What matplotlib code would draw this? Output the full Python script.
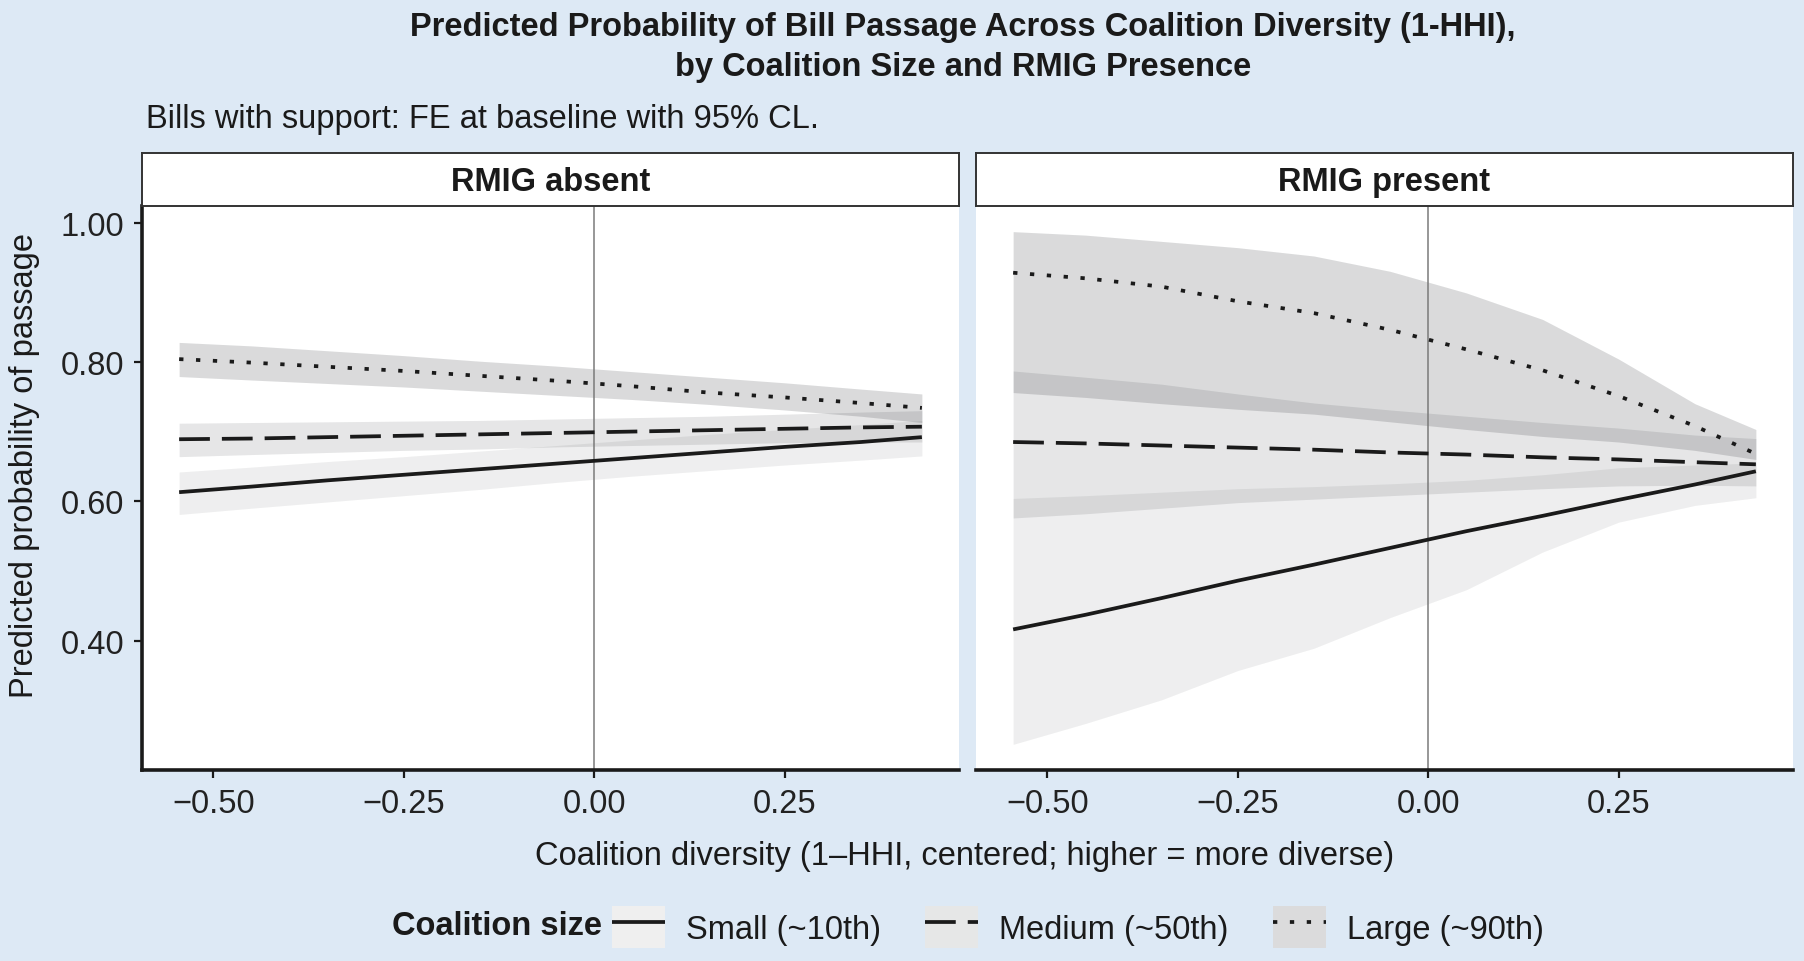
import matplotlib
matplotlib.use("Agg")
import matplotlib.pyplot as plt
from matplotlib.patches import Patch
from matplotlib.lines import Line2D
from matplotlib.ticker import FixedLocator, FuncFormatter
from matplotlib.colors import to_rgb

plt.rcParams['font.family'] = ['Liberation Sans', 'DejaVu Sans']

# ---------------- data ----------------
diversity = [-0.545, -0.45, -0.35, -0.25, -0.15, -0.05, 0.05, 0.15, 0.25, 0.35, 0.43]
panels = ["RMIG absent", "RMIG present"]
size_labels = ["Small (~10th)", "Medium (~50th)", "Large (~90th)"]

# RMIG absent
absent_small = [0.613, 0.621, 0.630, 0.638, 0.646, 0.654, 0.662, 0.670, 0.678, 0.685, 0.692]
absent_small_lo = [0.581, 0.590, 0.599, 0.608, 0.617, 0.627, 0.636, 0.644, 0.652, 0.659, 0.665]
absent_small_hi = [0.642, 0.649, 0.657, 0.664, 0.672, 0.680, 0.688, 0.696, 0.703, 0.710, 0.716]
absent_medium = [0.689, 0.690, 0.692, 0.694, 0.696, 0.698, 0.700, 0.702, 0.704, 0.706, 0.707]
absent_medium_lo = [0.664, 0.667, 0.670, 0.673, 0.675, 0.678, 0.680, 0.682, 0.684, 0.685, 0.685]
absent_medium_hi = [0.712, 0.713, 0.714, 0.715, 0.716, 0.718, 0.720, 0.722, 0.725, 0.728, 0.730]
absent_large = [0.804, 0.799, 0.793, 0.787, 0.780, 0.773, 0.765, 0.756, 0.749, 0.741, 0.734]
absent_large_lo = [0.779, 0.774, 0.769, 0.764, 0.758, 0.752, 0.746, 0.739, 0.731, 0.722, 0.713]
absent_large_hi = [0.828, 0.823, 0.816, 0.809, 0.801, 0.794, 0.786, 0.778, 0.770, 0.761, 0.754]

# RMIG present
present_small = [0.416, 0.437, 0.461, 0.486, 0.509, 0.533, 0.557, 0.579, 0.602, 0.624, 0.643]
present_small_lo = [0.251, 0.281, 0.315, 0.357, 0.389, 0.433, 0.473, 0.527, 0.570, 0.594, 0.605]
present_small_hi = [0.604, 0.608, 0.613, 0.618, 0.621, 0.625, 0.630, 0.638, 0.648, 0.652, 0.655]
present_medium = [0.685, 0.683, 0.680, 0.677, 0.674, 0.670, 0.667, 0.663, 0.660, 0.656, 0.653]
present_medium_lo = [0.576, 0.582, 0.590, 0.598, 0.603, 0.608, 0.613, 0.618, 0.622, 0.623, 0.622]
present_medium_hi = [0.787, 0.778, 0.768, 0.754, 0.741, 0.731, 0.722, 0.713, 0.705, 0.695, 0.690]
present_large = [0.928, 0.920, 0.908, 0.887, 0.870, 0.846, 0.818, 0.788, 0.751, 0.708, 0.668]
present_large_lo = [0.756, 0.749, 0.740, 0.732, 0.725, 0.714, 0.703, 0.693, 0.685, 0.673, 0.660]
present_large_hi = [0.987, 0.982, 0.973, 0.964, 0.952, 0.930, 0.899, 0.861, 0.804, 0.740, 0.703]

x_ticks = [-0.50, -0.25, 0.00, 0.25]
y_ticks = [0.40, 0.60, 0.80, 1.00]

panel_data = {
    "RMIG absent": [
        (absent_small, absent_small_lo, absent_small_hi),
        (absent_medium, absent_medium_lo, absent_medium_hi),
        (absent_large, absent_large_lo, absent_large_hi),
    ],
    "RMIG present": [
        (present_small, present_small_lo, present_small_hi),
        (present_medium, present_medium_lo, present_medium_hi),
        (present_large, present_large_lo, present_large_hi),
    ],
}

# ---------------- style ----------------
BG = '#dde9f5'
INK = '#1a1a1a'
FS = 23.5
fill_color = '#15181e'
fill_alpha = [0.07, 0.105, 0.155]
line_dashes = [None, (8.2, 3.2), (1.15, 3.35)]
LW = 2.7

W, H = 1804, 962
fig = plt.figure(figsize=(W / 100, H / 100), dpi=100, facecolor=BG)


def rect(x0, y0, x1, y1):
    return [x0 / W, 1 - y1 / H, (x1 - x0) / W, (y1 - y0) / H]


def over_white(c, a):
    r, g, b = to_rgb(c)
    return (1 - a + a * r, 1 - a + a * g, 1 - a + a * b)


panel_px = [(142, 959), (976, 1793)]
top_px, bot_px, strip_top = 207, 771, 154

# limits with ggplot-like 5% expansion
all_y = []
for p in panels:
    for (m, lo, hi) in panel_data[p]:
        all_y += lo + hi + m
ymin, ymax = min(all_y), max(all_y)
yr = ymax - ymin
ylim = (ymin - 0.05 * yr, ymax + 0.05 * yr)
xr = max(diversity) - min(diversity)
xlim = (min(diversity) - 0.05 * xr, max(diversity) + 0.05 * xr)

fmt = FuncFormatter(lambda v, pos: f"{v:.2f}".replace('-', '\u2212'))

handles = []
for i, p in enumerate(panels):
    x0, x1 = panel_px[i]
    ax = fig.add_axes(rect(x0, top_px, x1, bot_px))
    ax.set_facecolor('white')
    ax.set_xlim(*xlim)
    ax.set_ylim(*ylim)
    for s in ['top', 'right']:
        ax.spines[s].set_visible(False)
    ax.spines['bottom'].set_linewidth(2.6)
    ax.spines['bottom'].set_color(INK)
    if i == 0:
        ax.spines['left'].set_linewidth(2.6)
        ax.spines['left'].set_color(INK)
    else:
        ax.spines['left'].set_visible(False)

    ax.axvline(0, color='#7a7a7a', lw=1.1, zorder=2)

    for k, (m, lo, hi) in enumerate(panel_data[p]):
        ax.fill_between(diversity, lo, hi, color=fill_color, alpha=fill_alpha[k],
                        linewidth=0, zorder=1)
        ln, = ax.plot(diversity, m, color=INK, lw=LW, zorder=3,
                      solid_capstyle='butt', dash_capstyle='butt',
                      solid_joinstyle='round')
        if line_dashes[k] is not None:
            ln.set_dashes(line_dashes[k])
        if i == 0:
            kw = dict(color=INK, lw=LW, solid_capstyle='butt', dash_capstyle='butt')
            if line_dashes[k] is not None:
                kw['dashes'] = line_dashes[k]
            handles.append((Patch(facecolor=over_white(fill_color, fill_alpha[k]),
                                  linewidth=0),
                            Line2D([], [], **kw)))

    ax.xaxis.set_major_locator(FixedLocator(x_ticks))
    ax.xaxis.set_major_formatter(fmt)
    ax.tick_params(axis='x', length=6, width=1.6, color=INK, labelsize=FS,
                   labelcolor='#222222', pad=7)
    ax.yaxis.set_major_locator(FixedLocator(y_ticks))
    if i == 0:
        ax.yaxis.set_major_formatter(fmt)
        ax.tick_params(axis='y', length=6, width=1.6, color=INK, labelsize=FS,
                       labelcolor='#222222', pad=7)
    else:
        ax.tick_params(axis='y', length=0, labelleft=False)

    # strip
    sax = fig.add_axes(rect(x0, strip_top, x1, top_px))
    sax.set_facecolor('white')
    sax.set_xticks([])
    sax.set_yticks([])
    for s in sax.spines.values():
        s.set_linewidth(1.4)
        s.set_color('#333333')
    sax.text(0.5, 0.46, p, transform=sax.transAxes, ha='center', va='center',
             fontsize=FS, fontweight='bold', color=INK)

# titles
fig.text(963 / W, 1 - 27.5 / H,
         "Predicted Probability of Bill Passage Across Coalition Diversity (1-HHI),",
         ha='center', va='center', fontsize=FS, fontweight='bold', color=INK)
fig.text(963 / W, 1 - 67.5 / H, "by Coalition Size and RMIG Presence",
         ha='center', va='center', fontsize=FS, fontweight='bold', color=INK)
fig.text(146 / W, 1 - 119.5 / H, "Bills with support: FE at baseline with 95% CL.",
         ha='left', va='center', fontsize=FS, color=INK)

# axis titles
fig.text(25 / W, 1 - 466 / H, "Predicted probability of passage", rotation=90,
         ha='center', va='center', fontsize=FS, color=INK)
fig.text(965 / W, 1 - 857 / H,
         "Coalition diversity (1\u2013HHI, centered; higher = more diverse)",
         ha='center', va='center', fontsize=FS, color=INK)

# legend
fig.text(602 / W, 1 - 927 / H, "Coalition size", ha='right', va='center',
         fontsize=FS, fontweight='bold', color=INK)
leg = fig.legend(handles=handles, labels=size_labels, ncol=3, loc='center left',
                 bbox_to_anchor=(612 / W, 1 - 928 / H), frameon=False,
                 fontsize=FS, handlelength=1.62, handleheight=1.62,
                 handletextpad=0.65, columnspacing=1.35, borderpad=0,
                 borderaxespad=0)
for t in leg.get_texts():
    t.set_color(INK)

fig.savefig("out.png", dpi=100, facecolor=BG)
